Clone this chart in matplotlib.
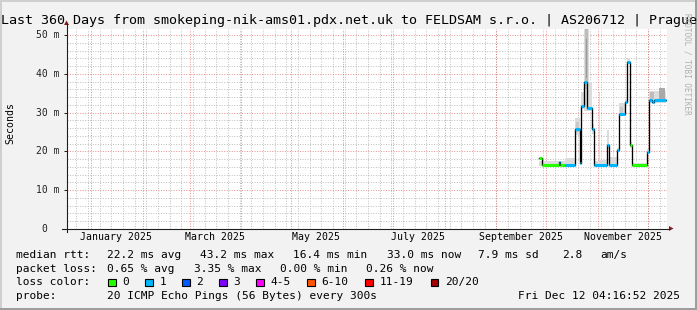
import datetime as dt

import matplotlib
matplotlib.use("Agg")
import matplotlib.pyplot as plt
from matplotlib.lines import Line2D
from matplotlib.patches import Polygon, Rectangle
from matplotlib.transforms import ScaledTranslation
import numpy as np

plt.rcParams["font.family"] = ["DejaVu Sans Mono"]

W, H, DPI = 697, 310, 100

# ── time frame ────────────────────────────────────────────────────────────────
END = dt.datetime(2025, 12, 12, 4, 16, 52)
SPAN_DAYS = 360
START = END - dt.timedelta(days=SPAN_DAYS)

TITLE = ("Last 360 Days from smokeping-nik-ams01.pdx.net.uk to FELDSAM s.r.o. "
         "| AS206712 | Prague")
Y_MAX = 51.55
Y_TICKS = [0, 10, 20, 30, 40, 50]
Y_LABELS = ["0", "10 m", "20 m", "30 m", "40 m", "50 m"]
X_LABEL_MONTHS = [(2025, 1), (2025, 3), (2025, 5), (2025, 7), (2025, 9), (2025, 11)]

# ── median rtt (days since START, ms, loss bucket) ────────────────────────────
MED_EDGES = [283.5, 285.4, 295.5, 296.3, 299.0, 304.9, 307.9, 308.3, 308.9,
             310.6, 312.1, 315.4, 316.3, 324.3, 325.3, 330.5, 331.4, 335.0,
             336.4, 337.8, 338.3, 339.3, 348.0, 349.3, 351.0, 352.6, 359.6]
MED_MS = [18.2, 16.6, 17.3, 16.6, 16.6, 25.8, 24.7, 17.1, 31.6, 38.0, 31.1,
          25.7, 16.6, 21.6, 16.6, 20.4, 29.6, 32.8, 43.1, 36.7, 21.6, 16.6,
          19.9, 33.2, 32.7, 33.2]
MED_LOSS = [0, 0, 1, 0, 1, 1, 1, 1, 1, 1, 1, 1, 1, 1, 1, 1, 1, 1, 1, 0, 0, 0,
            1, 1, 1, 1]

# ── smoke (ping spread) ───────────────────────────────────────────────────────
SMOKE_EDGES = [283.5, 299.0, 304.9, 307.9, 308.9, 310.6, 313.4, 315.4, 316.3,
               319.4, 320.2, 324.3, 325.3, 330.5, 331.4, 335.0, 336.4, 337.8,
               338.3, 339.3, 348.0, 349.3, 359.6]
SMOKE_LO = [16.2, 16.2, 24.3, 16.8, 31.0, 30.5, 30.5, 24.5, 16.2, 16.2, 16.2,
            20.5, 16.2, 19.8, 29.0, 32.2, 42.5, 36.0, 21.0, 16.2, 19.4, 32.6]
SMOKE_HI = [17.6, 18.4, 28.6, 24.8, 35.4, 52.0, 38.0, 27.0, 17.6, 35.4, 17.8,
            25.5, 18.6, 21.0, 32.4, 33.6, 44.0, 37.5, 22.3, 17.0, 20.6, 35.6]

DARK_START = [311.0, 311.4, 305.4, 331.9, 350.3, 355.6]
DARK_END = [313.0, 312.5, 307.2, 334.0, 352.4, 358.8]
DARK_LO = [36.0, 39.0, 25.0, 29.5, 33.4, 33.4]
DARK_HI = [52.0, 49.0, 27.6, 31.4, 35.4, 36.3]
DARK_SHADE = ["#bdbdbd", "#9a9a9a", "#c9c9c9", "#c9c9c9", "#bdbdbd", "#a9a9a9"]

# ── legend ────────────────────────────────────────────────────────────────────
LOSS_COLORS = ["#26ff00", "#00b8ff", "#0059ff", "#7e00ff",
               "#ff00ff", "#ff5500", "#ff0000", "#a10000"]
LOSS_LABELS = ["0", "1", "2", "3", "4-5", "6-10", "11-19", "20/20"]
RTT_ROW = ["median rtt:", "22.2 ms avg", "43.2 ms max", "16.4 ms min",
           "33.0 ms now", "7.9 ms sd", "2.8", "am/s"]
LOSS_ROW = ["packet loss:", "0.65 % avg", "3.35 % max", "0.00 % min", "0.26 % now"]
PROBE = "20 ICMP Echo Pings (56 Bytes) every 300s"


def fx(x):
    return x / W


def fy(y):
    return 1 - y / H


def days(t):
    return (t - START).total_seconds() / 86400


fig = plt.figure(figsize=(W / DPI, H / DPI), dpi=DPI, facecolor="#f2f2f2")

# 3D border
fig.add_artist(Rectangle((0, 0), fx(2), 1, transform=fig.transFigure,
                         color="#cfcfcf", lw=0))
fig.add_artist(Rectangle((0, fy(2)), 1, 2 / H, transform=fig.transFigure,
                         color="#cfcfcf", lw=0))
fig.add_artist(Rectangle((fx(W - 2), 0), 2 / W, 1, transform=fig.transFigure,
                         color="#9e9e9e", lw=0))
fig.add_artist(Rectangle((0, 0), 1, 2 / H, transform=fig.transFigure,
                         color="#9e9e9e", lw=0))

ax = fig.add_axes([fx(66.5), fy(229), 600 / W, 200 / H])
ax.set_facecolor("white")
ax.set_xlim(0, SPAN_DAYS)
ax.set_ylim(0, Y_MAX)
for s in ax.spines.values():
    s.set_visible(False)
ax.set_xticks([])
ax.set_yticks(Y_TICKS[1:])
ax.set_yticklabels([])
ax.tick_params(axis="y", length=2.2, width=0.72, color="#1f1f1f", direction="out")

# ── grid (dotted) ─────────────────────────────────────────────────────────────
minor_kw = dict(color="#adadad", alpha=0.8, lw=0.7, dashes=(1, 1.6), zorder=0.5)
major_kw = dict(color="#de5c5c", alpha=0.7, lw=0.7, dashes=(1, 1.6), zorder=0.6)

for v in np.arange(2, Y_MAX, 2):
    if v % 10:
        ax.axhline(v, **minor_kw)
for v in Y_TICKS[1:]:
    ax.axhline(v, **major_kw)

first_monday = (START + dt.timedelta(days=(7 - START.weekday()) % 7)).replace(
    hour=0, minute=0, second=0)
t = first_monday
while t < END:
    ax.axvline(days(t), **minor_kw)
    t += dt.timedelta(days=7)

month_starts = []
y_, m_ = START.year, START.month + 1
while True:
    if m_ > 12:
        y_, m_ = y_ + 1, 1
    ms = dt.datetime(y_, m_, 1)
    if ms > END:
        break
    month_starts.append(ms)
    m_ += 1
for ms in month_starts:
    ax.axvline(days(ms), **major_kw)

# ── smoke ─────────────────────────────────────────────────────────────────────
ax.fill_between(SMOKE_EDGES, SMOKE_LO + [SMOKE_LO[-1]], SMOKE_HI + [SMOKE_HI[-1]],
                step="post", color="#dcdcdc", lw=0, zorder=1)
ax.bar(DARK_START, np.array(DARK_HI) - np.array(DARK_LO),
       width=np.array(DARK_END) - np.array(DARK_START), bottom=DARK_LO,
       align="edge", color=DARK_SHADE, lw=0, zorder=1.2)

# ── median ────────────────────────────────────────────────────────────────────
ax.step(MED_EDGES, MED_MS + [MED_MS[-1]], where="post", color="black",
        lw=0.95, zorder=2)
ax.hlines(MED_MS, MED_EDGES[:-1], MED_EDGES[1:],
          colors=[LOSS_COLORS[i] for i in MED_LOSS], lw=2.2,
          capstyle="butt", zorder=3)

# ── axes lines and arrows ─────────────────────────────────────────────────────
AXIS_C, ARROW_C = "#1f1f1f", "#801f1f"
fig.add_artist(Line2D([fx(66.5), fx(66.5)], [fy(232), fy(24)], color=AXIS_C, lw=0.8))
fig.add_artist(Line2D([fx(62), fx(669)], [fy(228.5), fy(228.5)], color=AXIS_C, lw=0.8))
fig.add_artist(Polygon([(fx(669), fy(226)), (fx(673.5), fy(228.5)), (fx(669), fy(231))],
                       closed=True, transform=fig.transFigure, color=ARROW_C, lw=0))
fig.add_artist(Polygon([(fx(64), fy(25)), (fx(66.5), fy(20.5)), (fx(69), fy(25))],
                       closed=True, transform=fig.transFigure, color=ARROW_C, lw=0))

# y labels: number right edge aligned, unit after
ytrans = ax.get_yaxis_transform()
for v, lab in zip(Y_TICKS, Y_LABELS):
    off = -7 if lab.endswith("m") else -19.5
    ax.text(0, v, lab, transform=ytrans + ScaledTranslation(off / DPI, 0, fig.dpi_scale_trans),
            ha="right", va="center", fontsize=7, color="#222222")

# x labels centred mid-month
xtrans = ax.get_xaxis_transform()
for yr, mo in X_LABEL_MONTHS:
    d0 = dt.datetime(yr, mo, 1) + dt.timedelta(days=15)
    ax.text(days(d0), 0, dt.datetime(yr, mo, 1).strftime("%B %Y"),
            transform=xtrans + ScaledTranslation(0, -11 / DPI, fig.dpi_scale_trans),
            ha="center", va="baseline", fontsize=7.1)

fig.text(fx(10.3), fy(123), "Seconds", rotation=90, ha="center", va="center",
         fontsize=7.1)
fig.text(fx(1), fy(24), TITLE, ha="left", va="baseline", fontsize=9.6)
fig.text(fx(687.5), fy(13), "RRDTOOL / TOBI OETIKER", rotation=270, ha="center",
         va="top", fontsize=5.5, color="#b0b0b0")

# ── legend rows ───────────────────────────────────────────────────────────────
row1_x = [16, 107.3, 200, 293.3, 386.7, 478.3, 562.3, 600]
for x, s in zip(row1_x, RTT_ROW):
    fig.text(fx(x), fy(257.7), s, ha="left", va="baseline", fontsize=8)

row2_x = [16, 107.3, 194, 279.8, 365.5]
for x, s in zip(row2_x, LOSS_ROW):
    fig.text(fx(x), fy(271.7), s, ha="left", va="baseline", fontsize=8)

fig.text(fx(16), fy(285.3), "loss color:", ha="left", va="baseline", fontsize=8)
box_x = [108.3, 145.3, 182.3, 219.3, 256.3, 307.3, 365.3, 430.7]
for x, c, lab in zip(box_x, LOSS_COLORS, LOSS_LABELS):
    fig.add_artist(Rectangle((fx(x), fy(286)), 7.5 / W, 7.5 / H,
                             transform=fig.transFigure, facecolor=c,
                             edgecolor="black", lw=0.8))
    fig.text(fx(x + 14), fy(285.3), lab, ha="left", va="baseline", fontsize=8)

fig.text(fx(16), fy(299.3), "probe:", ha="left", va="baseline", fontsize=8)
fig.text(fx(107.3), fy(299.3), PROBE, ha="left", va="baseline", fontsize=8)
fig.text(fx(680), fy(299.3), END.strftime("%a %b %d %H:%M:%S %Y"),
         ha="right", va="baseline", fontsize=8)

fig.savefig("out.png", dpi=DPI, facecolor=fig.get_facecolor())
